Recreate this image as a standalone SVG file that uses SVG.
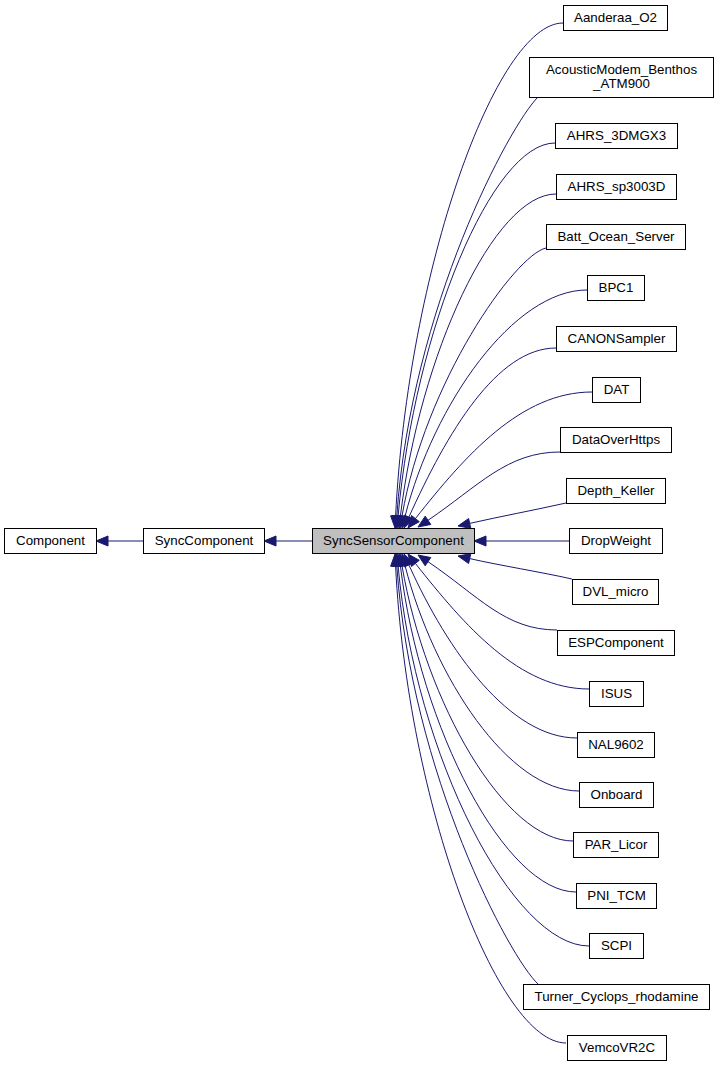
<svg xmlns="http://www.w3.org/2000/svg" width="715" height="1067" viewBox="0 0 715 1067">
<style>
.n rect{fill:#ffffff;stroke:#000000;stroke-width:1}
.n text{font-family:"Liberation Sans",Arial,Helvetica,sans-serif;font-size:13.33px;fill:#000000;text-anchor:middle}
#SyncSensorComponent rect{fill:#bfbfbf}
.e path{fill:none;stroke:#191970;stroke-width:1}
.e polygon{fill:#191970;stroke:#191970;stroke-width:1}
</style>
<rect width="715" height="1067" fill="#ffffff"/>
<g id="edges" class="e">
<path d="M143,541 L108,541"/><polygon points="96,541 108,536 108,546"/>
<path d="M312,541 L276,541"/><polygon points="264,541 276,536 276,546"/>
<path d="M563,23 C496,23 408,270 395.6,516"/><polygon points="395,528 390.6,515.75 400.6,516.25"/>
<path d="M538,97 C510,125 411.5,306.5 396.8,516"/><polygon points="396,528 391.8,515.65 401.8,516.35"/>
<path d="M555,143 C492,143 415,329.5 398.1,516"/><polygon points="397,528 393.1,515.55 403.1,516.45"/>
<path d="M556,194 C494,194 419.8,355 400.4,516.1"/><polygon points="399,528 395.4,515.5 405.4,516.7"/>
<path d="M546,248 C515,255 425,382 402,516.2"/><polygon points="400,528 397.1,515.35 406.9,517.05"/>
<path d="M587,290 C514,290 434,403 405,516.4"/><polygon points="402,528 400.2,515.15 409.8,517.65"/>
<path d="M556,348 C497,348 447,432.6 408.9,517.1"/><polygon points="404,528 404.3,515.05 413.5,519.15"/>
<path d="M592,392 C521,392 465.4,455.3 415.4,518.6"/><polygon points="408,528 411.5,515.5 419.3,521.7"/>
<path d="M560,452 C507,452 478.6,486 428,520.3"/><polygon points="418,527 425.2,516.15 430.8,524.45"/>
<path d="M566,503 C535,510 500,516.5 469.7,523.4"/><polygon points="458,526 468.6,518.5 470.8,528.3"/>
<path d="M569,541 L486,541"/><polygon points="474,541 486,536 486,546"/>
<path d="M572,579 C541,572 500,565.5 469.7,558.6"/><polygon points="458,556 470.8,553.7 468.6,563.5"/>
<path d="M557,630 C505,630 478.6,595.9 428,561.7"/><polygon points="418,555 425.2,565.85 430.8,557.55"/>
<path d="M589,689 C519.6,689 465,626.2 415.4,563.4"/><polygon points="408,554 411.5,566.5 419.3,560.3"/>
<path d="M577,738 C510,738 447.8,651.4 408.9,564.9"/><polygon points="404,554 404.3,566.95 413.5,562.85"/>
<path d="M579,791 C509,791 434.1,678.3 405,565.6"/><polygon points="402,554 400.2,566.85 409.8,564.35"/>
<path d="M573,841 C505,841 425.7,703.4 402,565.8"/><polygon points="400,554 397.1,566.65 406.9,564.95"/>
<path d="M576,892 C506,892 420.1,728.9 400.4,565.9"/><polygon points="399,554 395.4,566.5 405.4,565.3"/>
<path d="M589,946 C513,946 415.3,756 398.1,566"/><polygon points="397,554 393.1,566.45 403.1,565.55"/>
<path d="M538,984 C510,958 411.4,775 396.8,566"/><polygon points="396,554 391.8,566.35 401.8,565.65"/>
<path d="M566,1043 C498,1043 407.5,804.5 395.6,566"/><polygon points="395,554 390.6,566.25 400.6,565.75"/>
</g>
<g id="Component" class="n"><rect x="4.5" y="528.5" width="92" height="25"/><text x="50.5" y="545">Component</text></g>
<g id="SyncComponent" class="n"><rect x="143.5" y="528.5" width="121" height="25"/><text x="204" y="545">SyncComponent</text></g>
<g id="SyncSensorComponent" class="n"><rect x="312.5" y="528.5" width="162" height="25"/><text x="393.5" y="545">SyncSensorComponent</text></g>
<g id="Aanderaa_O2" class="n"><rect x="563.5" y="5.5" width="104" height="25"/><text x="615.5" y="22">Aanderaa_O2</text></g>
<g id="AcousticModem_Benthos_ATM900" class="n"><rect x="529.5" y="57.5" width="184" height="40"/><text x="621.5" y="74">AcousticModem_Benthos</text><text x="621.5" y="88">_ATM900</text></g>
<g id="AHRS_3DMGX3" class="n"><rect x="555.5" y="123.5" width="122" height="25"/><text x="616.5" y="140">AHRS_3DMGX3</text></g>
<g id="AHRS_sp3003D" class="n"><rect x="556.5" y="174.5" width="120" height="25"/><text x="616.5" y="191">AHRS_sp3003D</text></g>
<g id="Batt_Ocean_Server" class="n"><rect x="546.5" y="224.5" width="139" height="25"/><text x="616" y="241">Batt_Ocean_Server</text></g>
<g id="BPC1" class="n"><rect x="587.5" y="275.5" width="57" height="25"/><text x="616" y="292">BPC1</text></g>
<g id="CANONSampler" class="n"><rect x="556.5" y="326.5" width="120" height="25"/><text x="616.5" y="343">CANONSampler</text></g>
<g id="DAT" class="n"><rect x="592.5" y="377.5" width="48" height="25"/><text x="616.5" y="394">DAT</text></g>
<g id="DataOverHttps" class="n"><rect x="560.5" y="427.5" width="111" height="25"/><text x="616" y="444">DataOverHttps</text></g>
<g id="Depth_Keller" class="n"><rect x="566.5" y="478.5" width="99" height="25"/><text x="616" y="495">Depth_Keller</text></g>
<g id="DropWeight" class="n"><rect x="569.5" y="528.5" width="93" height="25"/><text x="616" y="545">DropWeight</text></g>
<g id="DVL_micro" class="n"><rect x="572.5" y="579.5" width="86" height="25"/><text x="615.5" y="596">DVL_micro</text></g>
<g id="ESPComponent" class="n"><rect x="557.5" y="630.5" width="117" height="25"/><text x="616" y="647">ESPComponent</text></g>
<g id="ISUS" class="n"><rect x="589.5" y="681.5" width="54" height="25"/><text x="616.5" y="698">ISUS</text></g>
<g id="NAL9602" class="n"><rect x="577.5" y="732.5" width="77" height="25"/><text x="616" y="749">NAL9602</text></g>
<g id="Onboard" class="n"><rect x="579.5" y="782.5" width="74" height="25"/><text x="616.5" y="799">Onboard</text></g>
<g id="PAR_Licor" class="n"><rect x="573.5" y="832.5" width="85" height="25"/><text x="616" y="849">PAR_Licor</text></g>
<g id="PNI_TCM" class="n"><rect x="576.5" y="883.5" width="80" height="25"/><text x="616.5" y="900">PNI_TCM</text></g>
<g id="SCPI" class="n"><rect x="589.5" y="933.5" width="54" height="25"/><text x="616.5" y="950">SCPI</text></g>
<g id="Turner_Cyclops_rhodamine" class="n"><rect x="523.5" y="984.5" width="186" height="25"/><text x="616.5" y="1001">Turner_Cyclops_rhodamine</text></g>
<g id="VemcoVR2C" class="n"><rect x="567.5" y="1035.5" width="99" height="25"/><text x="617" y="1052">VemcoVR2C</text></g>
</svg>
